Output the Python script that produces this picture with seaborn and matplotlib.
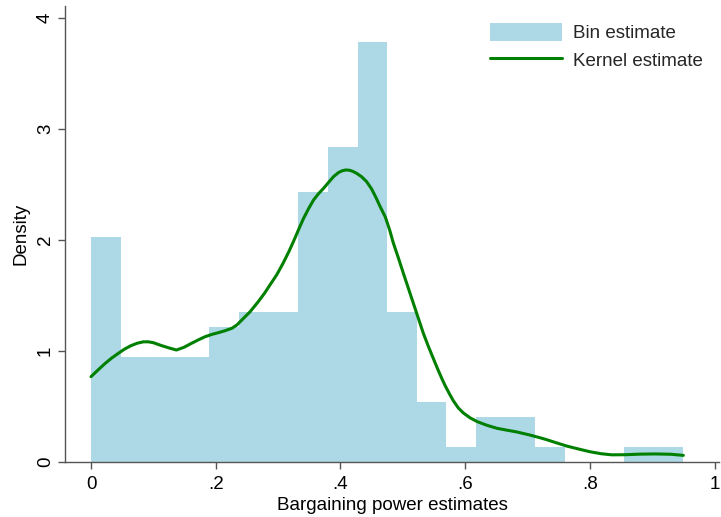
import numpy as np
import pandas as pd
import matplotlib
matplotlib.use("Agg")
import matplotlib.pyplot as plt
from matplotlib.patches import Patch
from matplotlib.lines import Line2D
import seaborn as sns

# Histogram: 20 equal bins over [0, 0.95], observation counts per bin
bin_lo, bin_hi, n_bins = 0.0, 0.95, 20
bin_counts = [15, 7, 7, 7, 9, 10, 10, 18, 21, 28, 10, 4, 1, 3, 3, 1, 0, 0, 1, 1]

# Kernel density estimate evaluated over the data range
kde_x = [0.000, 0.011, 0.022, 0.033, 0.044, 0.054, 0.064, 0.074, 0.084, 0.092,
         0.100, 0.113, 0.125, 0.137, 0.149, 0.161, 0.172, 0.183, 0.194, 0.204,
         0.215, 0.226, 0.234, 0.242, 0.255, 0.268, 0.278, 0.287, 0.298, 0.308,
         0.318, 0.327, 0.334, 0.341, 0.349, 0.357, 0.365, 0.373, 0.381, 0.389,
         0.397, 0.403, 0.409, 0.415, 0.420, 0.426, 0.434, 0.442, 0.450, 0.457,
         0.464, 0.472, 0.479, 0.485, 0.493, 0.501, 0.509, 0.517, 0.525, 0.533,
         0.541, 0.549, 0.556, 0.563, 0.568, 0.575, 0.581, 0.589, 0.597, 0.608,
         0.619, 0.635, 0.651, 0.667, 0.683, 0.704, 0.720, 0.731, 0.747, 0.763,
         0.780, 0.800, 0.818, 0.835, 0.858, 0.880, 0.905, 0.930, 0.950]
kde_y = [0.766, 0.825, 0.882, 0.933, 0.977, 1.015, 1.045, 1.067, 1.080, 1.080,
         1.072, 1.046, 1.025, 1.006, 1.030, 1.066, 1.097, 1.126, 1.147, 1.162,
         1.180, 1.202, 1.232, 1.277, 1.350, 1.440, 1.515, 1.592, 1.685, 1.787,
         1.900, 2.013, 2.105, 2.193, 2.280, 2.358, 2.415, 2.463, 2.516, 2.568,
         2.605, 2.621, 2.628, 2.625, 2.615, 2.598, 2.567, 2.523, 2.457, 2.380,
         2.295, 2.205, 2.087, 1.968, 1.835, 1.697, 1.562, 1.427, 1.292, 1.157,
         1.040, 0.930, 0.835, 0.745, 0.685, 0.610, 0.550, 0.485, 0.440, 0.395,
         0.362, 0.328, 0.301, 0.284, 0.268, 0.240, 0.216, 0.198, 0.169, 0.141,
         0.117, 0.090, 0.072, 0.062, 0.063, 0.068, 0.070, 0.067, 0.057]

xtick_vals = [0, 0.2, 0.4, 0.6, 0.8, 1.0]
xtick_labels = ["0", ".2", ".4", ".6", ".8", "1"]
ytick_vals = [0, 1, 2, 3, 4]
ytick_labels = ["0", "1", "2", "3", "4"]

bar_color = "#ADD8E6"
line_color = "#008000"
axis_color = "#555555"

sns.set_theme(style="white")
plt.rcParams["font.family"] = ["Liberation Sans", "DejaVu Sans"]

fig = plt.figure(figsize=(7.21, 5.17), dpi=100)
ax = fig.add_axes([65 / 721, (517 - 461.7) / 517, 654 / 721, 455.7 / 517])

edges = np.linspace(bin_lo, bin_hi, n_bins + 1).tolist()
centers = [(a + b) / 2 for a, b in zip(edges[:-1], edges[1:])]
hist_df = pd.DataFrame({"x": centers, "w": bin_counts})
sns.histplot(data=hist_df, x="x", weights="w", bins=edges, stat="density",
             element="step", fill=True, color=bar_color, alpha=1, linewidth=0,
             ax=ax)

kde_df = pd.DataFrame({"x": kde_x, "y": kde_y})
sns.lineplot(data=kde_df, x="x", y="y", color=line_color, linewidth=2.2,
             ax=ax, sort=False, solid_joinstyle="round",
             solid_capstyle="round")

ax.set_xlim(-0.0417, 1.0072)
ax.set_ylim(0, 4.105)
ax.set_xticks(xtick_vals)
ax.set_xticklabels(xtick_labels)
ax.set_yticks(ytick_vals)
ax.set_yticklabels(ytick_labels, rotation=90, va="center")

for side in ["top", "right"]:
    ax.spines[side].set_visible(False)
for side in ["left", "bottom"]:
    ax.spines[side].set_color(axis_color)
    ax.spines[side].set_linewidth(1.0)

ax.tick_params(axis="both", which="major", direction="out", length=5,
               width=1.0, color=axis_color, labelsize=13.5, labelcolor="black",
               left=True, bottom=True)
ax.tick_params(axis="x", pad=5)
ax.tick_params(axis="y", pad=3)

ax.set_xlabel("Bargaining power estimates", fontsize=13.5, color="black",
              labelpad=3)
ax.set_ylabel("Density", fontsize=13.5, color="black", labelpad=5)

handles = [Patch(facecolor=bar_color, edgecolor="none"),
           Line2D([0], [0], color=line_color, linewidth=2.2)]
ax.legend(handles, ["Bin estimate", "Kernel estimate"], loc="upper left",
          bbox_to_anchor=(490 / 721, 1 - 23 / 517),
          bbox_transform=fig.transFigure, frameon=False, fontsize=13.5,
          handlelength=3.85, handleheight=1.1, handletextpad=0.6,
          labelspacing=0.42, borderpad=0, borderaxespad=0)

fig.savefig("out.png", dpi=100)
